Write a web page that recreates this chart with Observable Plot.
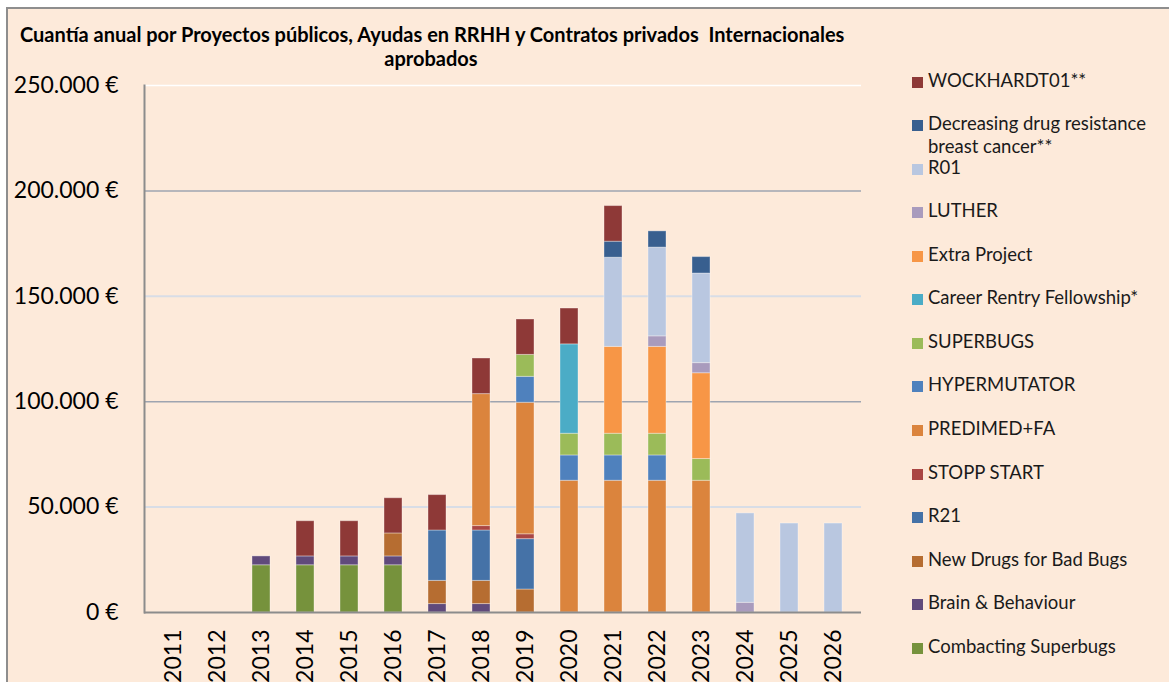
<!DOCTYPE html>
<html>
<head>
<meta charset="utf-8">
<script src="https://cdn.jsdelivr.net/npm/d3@7"></script>
<script src="https://cdn.jsdelivr.net/npm/@observablehq/plot@0.6"></script>
<style>
  html, body { margin: 0; padding: 0; background: #ffffff; }
  #page { position: relative; width: 1169px; height: 682px; overflow: hidden; font-family: Lato, "Open Sans", sans-serif; }
  #frame { position: absolute; left: 6px; top: 7px; width: 1200px; height: 700px; background: #FDEADA; border-left: 2px solid #8e8e8e; border-top: 2px solid #8e8e8e; }
  #title { position: absolute; left: 20px; top: 22px; width: 822px; text-align: center; font-weight: bold; font-size: 20px; line-height: 24px; color: #000; white-space: pre; }
  #chart { position: absolute; left: 0; top: 0; }
  .lg { position: absolute; left: 912px; font-size: 18.5px; line-height: 23px; color: #1a1a1a; }
  .lg .sw { position: absolute; left: 0; top: 7.5px; width: 11px; height: 11px; }
  .lg .tx { position: absolute; left: 16px; top: -0.5px; width: 238px; }
</style>
</head>
<body>
<div id="page">
  <div id="frame"></div>
  <div id="chart"></div>
  <div id="title"></div>
  <div id="legend"></div>
</div>
<script>
// ---- data ----
const titleLines = ["Cuantía anual por Proyectos públicos, Ayudas en RRHH y Contratos privados  Internacionales", "aprobados"];
const years = ["2011","2012","2013","2014","2015","2016","2017","2018","2019","2020","2021","2022","2023","2024","2025","2026"];
// series in stacking order (bottom -> top)
const series = ["Combacting Superbugs","Brain & Behaviour","New Drugs for Bad Bugs","R21","STOPP START","PREDIMED+FA","HYPERMUTATOR","SUPERBUGS","Career Rentry Fellowship*","Extra Project","LUTHER","R01","Decreasing drug resistance breast cancer**","WOCKHARDT01**"];
const colors = ["#76923C","#604A7B","#B66D31","#4572A7","#AA4643","#DB843D","#4F81BD","#9BBB59","#4BACC6","#F79646","#A99BBD","#B9C7E0","#385F8F","#8E3937"];
//                         2011 2012 2013   2014   2015   2016   2017   2018   2019   2020   2021   2022   2023   2024   2025   2026
const combactingSuperbugs = [0, 0, 22400, 22400, 22400, 22400, 0, 0, 0, 0, 0, 0, 0, 0, 0, 0];
const brainBehaviour      = [0, 0, 4200, 4200, 4200, 4200, 4000, 4000, 0, 0, 0, 0, 0, 0, 0, 0];
const newDrugsBadBugs     = [0, 0, 0, 0, 0, 10900, 11000, 11000, 10900, 0, 0, 0, 0, 0, 0, 0];
const r21                 = [0, 0, 0, 0, 0, 0, 23900, 23900, 23900, 0, 0, 0, 0, 0, 0, 0];
const stoppStart          = [0, 0, 0, 0, 0, 0, 0, 2100, 2300, 0, 0, 0, 0, 0, 0, 0];
const predimedFA          = [0, 0, 0, 0, 0, 0, 0, 62600, 62400, 62500, 62500, 62500, 62500, 0, 0, 0];
const hypermutator        = [0, 0, 0, 0, 0, 0, 0, 0, 12300, 12000, 12000, 12000, 0, 0, 0, 0];
const superbugs           = [0, 0, 0, 0, 0, 0, 0, 0, 10400, 10300, 10300, 10300, 10300, 0, 0, 0];
const careerRentry        = [0, 0, 0, 0, 0, 0, 0, 0, 0, 42400, 0, 0, 0, 0, 0, 0];
const extraProject        = [0, 0, 0, 0, 0, 0, 0, 0, 0, 0, 41200, 41200, 40700, 0, 0, 0];
const luther              = [0, 0, 0, 0, 0, 0, 0, 0, 0, 0, 0, 5000, 4800, 4600, 0, 0];
const r01                 = [0, 0, 0, 0, 0, 0, 0, 0, 0, 0, 42300, 42100, 42500, 42400, 42200, 42200];
const decreasingDrug      = [0, 0, 0, 0, 0, 0, 0, 0, 0, 0, 7600, 7700, 7800, 0, 0, 0];
const wockhardt01         = [0, 0, 0, 16700, 16700, 16700, 16800, 16900, 16800, 17000, 16900, 0, 0, 0, 0, 0];
const yTicks = [0, 50000, 100000, 150000, 200000, 250000];

// ---- build table ----
const valuesBySeries = [combactingSuperbugs, brainBehaviour, newDrugsBadBugs, r21, stoppStart, predimedFA, hypermutator, superbugs, careerRentry, extraProject, luther, r01, decreasingDrug, wockhardt01];
const table = [];
series.forEach((s, i) => years.forEach((y, j) => {
  const v = valuesBySeries[i][j];
  if (v > 0) table.push({series: s, year: y, value: v});
}));

const fmt = d => d3.format(",")(d).replace(/,/g, ".") + " €";

const plot = Plot.plot({
  width: 870,
  height: 682,
  marginTop: 85,
  marginBottom: 70,
  marginLeft: 144,
  marginRight: 9,
  style: {fontFamily: "Lato, 'Open Sans', sans-serif", fontSize: "23px", color: "#000", background: "transparent", overflow: "visible"},
  x: {domain: years, paddingInner: 0.6, paddingOuter: 0.3, label: null},
  y: {domain: [0, 250000], label: null},
  color: {domain: series, range: colors},
  marks: [
    Plot.ruleY(yTicks.filter(d => d === 50000 || d === 150000), {stroke: "#D8DDE6", strokeWidth: 2}),
    Plot.ruleY(yTicks.filter(d => d === 100000 || d === 200000), {stroke: "#9EA4B0", strokeWidth: 1.5}),
    Plot.ruleY(yTicks.filter(d => d === 250000), {stroke: "#ffffff", strokeWidth: 1.5}),
    Plot.barY(table, {x: "year", y: "value", fill: "series", order: series, stroke: "#ffffff", strokeOpacity: 0.35, strokeWidth: 1}),
    Plot.frame({anchor: "left", stroke: "#8c8c8c", strokeWidth: 2}),
    Plot.ruleY([0], {stroke: "#8c8c8c", strokeWidth: 2}),
    Plot.axisY({ticks: yTicks, tickFormat: fmt, tickSize: 0, tickPadding: 26, label: null, fontSize: 23}),
    Plot.axisX({tickRotate: -90, tickSize: 0, tickPadding: 17, label: null, fontSize: 23})
  ]
});
document.getElementById("chart").appendChild(plot);

// title
document.getElementById("title").textContent = titleLines.join("\n");

// legend (reverse of stacking order)
const legend = document.getElementById("legend");
series.slice().reverse().forEach((s, i) => {
  const idx = series.indexOf(s);
  const div = document.createElement("div");
  div.className = "lg";
  div.style.top = (69.2 + i * 43.54) + "px";
  const sw = document.createElement("div");
  sw.className = "sw";
  sw.style.background = colors[idx];
  const tx = document.createElement("div");
  tx.className = "tx";
  tx.textContent = s;
  div.appendChild(sw);
  div.appendChild(tx);
  legend.appendChild(div);
});
</script>
</body>
</html>
